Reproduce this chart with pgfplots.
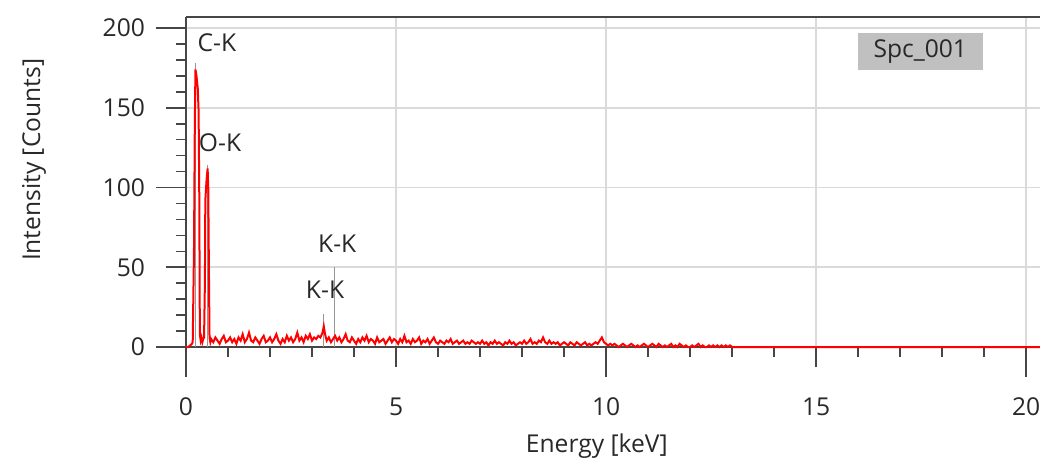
\documentclass[border=0pt]{standalone}
\usepackage{fontspec}
\setmainfont{Open Sans}
\usepackage{pgfplots}
\pgfplotsset{compat=1.18}
\usetikzlibrary{calc}

\definecolor{spec}{RGB}{255,0,0}
\definecolor{axisgray}{RGB}{70,70,70}
\definecolor{gridgray}{RGB}{218,218,218}
\definecolor{txtgray}{RGB}{40,40,40}
\definecolor{boxgray}{RGB}{192,192,192}
\definecolor{markgray}{RGB}{150,150,150}

\begin{document}
\begin{tikzpicture}[font=\fontsize{12.3}{14}\selectfont, text=txtgray]
\begin{axis}[
	name=ax,
	scale only axis,
	width=427pt, height=165pt,
	xmin=0, xmax=20.33,
	ymin=0, ymax=206.9,
	axis x line=bottom, axis y line=left,
	axis line style={-, draw=axisgray, line width=1pt},
	clip=false,
	tick align=outside,
	major tick length=10pt,
	minor tick length=5pt,
	tick style={axisgray, line width=0.8pt},
	xtick={0,5,10,15,20},
	ytick={0,50,100,150,200},
	minor x tick num=4,
	minor y tick num=4,
	extra x ticks={0,10,20}, extra x tick labels={},
	extra y ticks={0,100,200}, extra y tick labels={},
	extra tick style={major tick length=15pt, grid=none},
	grid=major,
	grid style={gridgray, line width=0.9pt},
	/pgf/number format/assume math mode=true,
	xticklabel style={yshift=-12pt},
	yticklabel style={xshift=-7pt},
	xlabel={Energy [keV]},
	ylabel={Intensity [Counts]},
	xlabel style={at={(rel axis cs:0.481,0)}, anchor=center, yshift=-49.5pt},
	ylabel style={at={(rel axis cs:-0.178,0.567)}, anchor=center, rotate=0},
]
% peak markers
\addplot[markgray, line width=0.6pt] coordinates {(0.226,0) (0.226,178)};
\addplot[markgray, line width=0.6pt] coordinates {(0.517,0) (0.517,114)};
\addplot[markgray, line width=0.6pt] coordinates {(3.28,0) (3.28,21)};
\addplot[markgray, line width=0.6pt] coordinates {(3.53,0) (3.53,50)};

% spectrum
\addplot[spec, line width=1pt] coordinates {
(0,0) (0.05,0) (0.10,1) (0.14,2) (0.16,3) (0.19,60) (0.21,140) (0.225,174) (0.25,170)
(0.28,162) (0.30,148) (0.315,100) (0.33,8) (0.35,4) (0.37,6) (0.39,3) (0.41,5) (0.43,6)
(0.45,40) (0.46,92) (0.49,105) (0.515,112) (0.53,100) (0.545,50) (0.56,6) (0.58,3)
(0.60,5) (0.65,3) (0.70,6) (0.75,4) (0.80,2) (0.85,5) (0.90,7) (0.95,3) (1.00,4)
(1.05,6) (1.10,3) (1.15,5) (1.20,2) (1.25,6) (1.30,4) (1.35,8) (1.40,3) (1.45,5)
(1.50,9) (1.55,4) (1.60,3) (1.65,6) (1.70,4) (1.75,2) (1.80,5) (1.85,7) (1.90,3)
(1.95,4) (2.00,6) (2.05,3) (2.10,5) (2.15,8) (2.20,4) (2.25,2) (2.30,5) (2.35,3)
(2.40,7) (2.45,4) (2.50,6) (2.55,3) (2.60,5) (2.65,9) (2.70,4) (2.75,6) (2.80,3)
(2.85,7) (2.90,5) (2.95,8) (3.00,4) (3.05,6) (3.10,5) (3.15,7) (3.20,6) (3.25,9)
(3.28,13) (3.31,8) (3.35,4) (3.40,6) (3.45,3) (3.50,5) (3.55,7) (3.60,4) (3.65,6)
(3.70,3) (3.75,5) (3.80,8) (3.85,4) (3.90,3) (3.95,6) (4.00,4) (4.05,2) (4.10,5)
(4.15,3) (4.20,6) (4.25,4) (4.30,7) (4.35,3) (4.40,5) (4.45,4) (4.50,2) (4.55,6)
(4.60,3) (4.65,4) (4.70,5) (4.75,2) (4.80,4) (4.85,6) (4.90,3) (4.95,5) (5.00,4)
(5.05,2) (5.10,5) (5.15,3) (5.20,7) (5.25,3) (5.30,4) (5.35,2) (5.40,5) (5.45,3)
(5.50,4) (5.55,6) (5.60,2) (5.65,4) (5.70,3) (5.75,5) (5.80,2) (5.85,4) (5.90,6)
(5.95,3) (6.00,2) (6.05,4) (6.10,3) (6.15,2) (6.20,4) (6.25,3) (6.30,5) (6.35,2)
(6.40,3) (6.45,4) (6.50,2) (6.55,3) (6.60,4) (6.65,2) (6.70,3) (6.75,2) (6.80,4)
(6.85,3) (6.90,2) (6.95,3) (7.00,2) (7.05,4) (7.10,2) (7.15,3) (7.20,1) (7.25,3)
(7.30,2) (7.35,4) (7.40,2) (7.45,3) (7.50,2) (7.55,1) (7.60,3) (7.65,2) (7.70,4)
(7.75,2) (7.80,3) (7.85,1) (7.90,2) (7.95,3) (8.00,2) (8.05,4) (8.10,2) (8.15,3)
(8.20,5) (8.25,2) (8.30,3) (8.35,2) (8.40,4) (8.45,3) (8.50,6) (8.55,3) (8.60,2)
(8.65,4) (8.70,2) (8.75,3) (8.80,2) (8.85,3) (8.90,1) (8.95,2) (9.00,3) (9.05,2)
(9.10,1) (9.15,3) (9.20,2) (9.25,1) (9.30,3) (9.35,2) (9.40,1) (9.45,2) (9.50,3)
(9.55,1) (9.60,2) (9.65,1) (9.70,2) (9.75,3) (9.80,2) (9.85,4) (9.90,6) (9.95,3)
(10.00,2) (10.05,1) (10.10,2) (10.15,1) (10.20,2) (10.25,1) (10.30,0) (10.35,1)
(10.40,2) (10.45,1) (10.50,0) (10.55,1) (10.60,2) (10.65,1) (10.70,0) (10.75,1)
(10.80,0) (10.85,1) (10.90,2) (10.95,1) (11.00,0) (11.05,1) (11.10,2) (11.15,1)
(11.20,0) (11.25,2) (11.30,1) (11.35,0) (11.40,1) (11.45,0) (11.50,1) (11.55,2)
(11.60,0) (11.65,1) (11.70,0) (11.75,2) (11.80,1) (11.85,0) (11.90,1) (11.95,0)
(12.00,0) (12.05,1) (12.10,0) (12.15,1) (12.20,2) (12.25,0) (12.30,1) (12.35,0)
(12.40,0) (12.45,1) (12.50,0) (12.55,1) (12.60,0) (12.65,1) (12.70,0) (12.75,1)
(12.80,0) (12.85,1) (12.90,0) (12.95,1) (13.00,0) (20.33,0)
};

% element labels and spectrum name
\node[anchor=west] at (axis cs:0.11,191) {C-K};
\node[anchor=west] at (axis cs:0.14,128) {O-K};
\node at (axis cs:3.6,65) {K-K};
\node at (axis cs:3.31,36) {K-K};
\node[fill=boxgray, minimum width=62.5pt, minimum height=18.5pt, inner sep=0pt]
	at (axis cs:17.48,185) {Spc\_001};
\end{axis}
% top frame line
\draw[axisgray, line width=1.2pt] (ax.north west) -- (ax.north east);
\pgfresetboundingbox
\path[use as bounding box] ($(ax.south west)+(-93pt,-55pt)$) rectangle ($(ax.north east)+(0,8.5pt)$);
\end{tikzpicture}
\end{document}
